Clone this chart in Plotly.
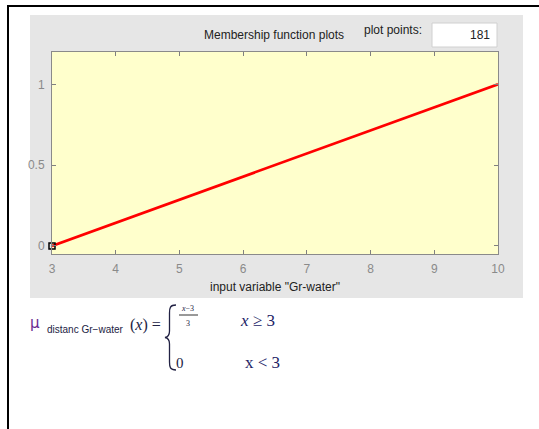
import plotly.graph_objects as go

# ---- data ----
x_vals = [3, 10]          # input variable "Gr-water"
mu_vals = [0, 1]          # membership degree
marker_x = [3]
marker_y = [0]
x_ticks = [3, 4, 5, 6, 7, 8, 9, 10]
y_ticks = [0, 0.5, 1]
y_tick_labels = ["0", "0.5", "1"]

W, H = 539, 429


def px(x):
    return x / W


def py(y):
    return 1 - y / H


fig = go.Figure()
fig.add_trace(go.Scatter(x=x_vals, y=mu_vals, mode="lines",
                         line=dict(color="#ff0000", width=2.6),
                         hoverinfo="skip", showlegend=False))
fig.add_trace(go.Scatter(x=marker_x, y=marker_y, mode="markers",
                         marker=dict(symbol="square-open", size=6,
                                     color="#000000", line=dict(width=1.5)),
                         cliponaxis=False, hoverinfo="skip",
                         showlegend=False))


def path(points):
    cmds = []
    for p in points:
        if isinstance(p, str):
            cmds.append(p)
        else:
            cmds.append(f"{px(p[0]):.5f},{py(p[1]):.5f}")
    return " ".join(cmds)


brace = path(["M", (176, 305), "C", (170, 305), (169.5, 308), (169.5, 313),
              "L", (169.5, 331), "C", (169.5, 335), (168, 337), (165, 337.5),
              "C", (168, 338), (169.5, 340), (169.5, 344),
              "L", (169.5, 362), "C", (169.5, 367), (170, 370), (176, 370)])

shapes = [
    # gray panel
    dict(type="rect", xref="paper", yref="paper", x0=px(30), x1=px(523),
         y0=py(298), y1=py(15), fillcolor="#e6e6e6", line=dict(width=0),
         layer="below"),
    # yellow plot area
    dict(type="rect", xref="x domain", yref="y domain", x0=0, x1=1,
         y0=0, y1=1, fillcolor="#ffffcc", line=dict(width=0),
         layer="below"),
    # outer frame (top and left)
    dict(type="rect", xref="paper", yref="paper", x0=px(7), x1=px(539),
         y0=py(7), y1=py(5), fillcolor="#000000", line=dict(width=0)),
    dict(type="rect", xref="paper", yref="paper", x0=px(7), x1=px(9),
         y0=py(429), y1=py(5), fillcolor="#000000", line=dict(width=0)),
    # plot points box
    dict(type="rect", xref="paper", yref="paper", x0=px(432), x1=px(497),
         y0=py(47), y1=py(23), fillcolor="#ffffff",
         line=dict(color="#d0d0d0", width=1)),
    # fraction bar
    dict(type="line", xref="paper", yref="paper", x0=px(179), x1=px(198),
         y0=py(315), y1=py(315), line=dict(color="#333333", width=1)),
    # brace
    dict(type="path", xref="paper", yref="paper", path=brace,
         line=dict(color="#222244", width=1.3)),
]

ann = []


def text(x, y, s, size, color="#222222", family="Liberation Sans",
         xanchor="center"):
    ann.append(dict(x=px(x), y=py(y), xref="paper", yref="paper", text=s,
                    showarrow=False, xanchor=xanchor, yanchor="middle",
                    font=dict(size=size, color=color, family=family)))


text(274, 35, "Membership function plots", 12, "#222222")
text(393, 30, "plot points:", 12, "#222222")
text(492, 35, "181", 12, "#222222", xanchor="right")
text(275, 287, 'input variable "Gr-water"', 12, "#222222")

# formula
text(35, 323, "μ", 15, "#6a2c91", "DejaVu Sans")
text(45, 329, "distanc Gr\u2212water", 10,
     "#222244", "Liberation Sans Narrow, Liberation Sans", xanchor="left")
text(128, 325, "(<i>x</i>) =", 16, "#222244", "Liberation Serif",
     xanchor="left")
text(188, 308, "<i>x</i>\u22123", 8, "#222244", "Liberation Serif")
text(188, 323, "3", 8, "#222244", "Liberation Serif")
text(257, 320, "<i>x</i> \u2265 3", 17, "#222266", "Liberation Serif")
text(180, 363, "0", 15, "#222244", "Liberation Serif")
text(262, 362, "x < 3", 17, "#222266", "Liberation Serif")

axis_common = dict(ticks="inside", ticklen=4, tickcolor="#808080",
                   ticklabelstandoff=4, automargin=False,
                   showline=True, linecolor="#8a8a8a", linewidth=1,
                   mirror="ticks", showgrid=False, zeroline=False,
                   tickfont=dict(size=12, color="#8a8a8a",
                                 family="Liberation Sans"))

fig.update_layout(
    width=W, height=H, margin=dict(l=0, r=0, t=0, b=0, pad=0),
    paper_bgcolor="#ffffff", plot_bgcolor="#ffffcc",
    shapes=shapes, annotations=ann, showlegend=False,
    xaxis=dict(domain=[px(52), px(498)], range=[3, 10], tickvals=x_ticks,
               **axis_common),
    yaxis=dict(domain=[py(254), py(52)], range=[-0.05, 1.2],
               tickvals=y_ticks, ticktext=y_tick_labels, **axis_common),
)

fig.write_html("out.html", config={"displayModeBar": False},
               post_script="document.body.style.margin='0';"
                           "document.body.style.overflow='hidden';")
